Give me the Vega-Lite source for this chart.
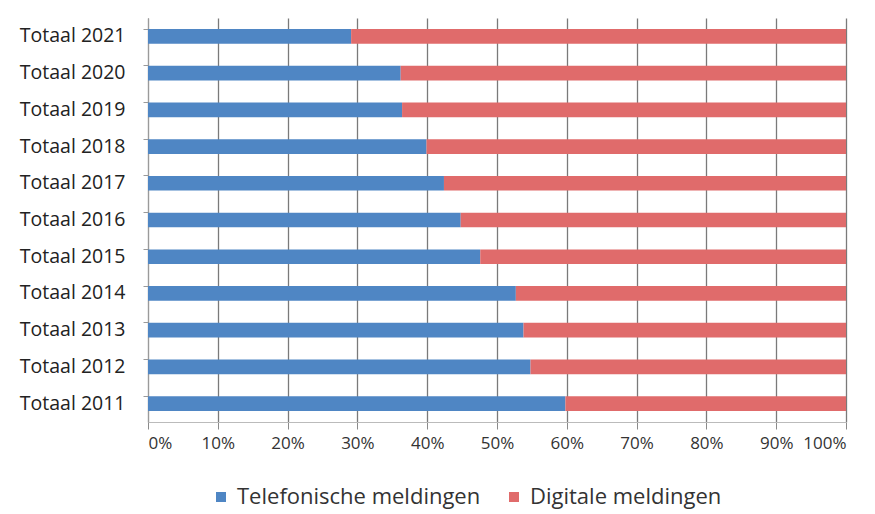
{
  "$schema": "https://vega.github.io/schema/vega-lite/v6.json",
  "width": 698,
  "height": 404,
  "autosize": {"type": "none"},
  "padding": {"left": 148, "top": 18, "right": 29, "bottom": 92},
  "background": "white",
  "config": {
    "view": {"stroke": null},
    "font": "Open Sans"
  },
  "data": {
    "values": [
      {"jaar": "Totaal 2021", "soort": "Telefonische meldingen", "o": 1, "pct": 29.1},
      {"jaar": "Totaal 2021", "soort": "Digitale meldingen", "o": 2, "pct": 70.9},
      {"jaar": "Totaal 2020", "soort": "Telefonische meldingen", "o": 1, "pct": 36.2},
      {"jaar": "Totaal 2020", "soort": "Digitale meldingen", "o": 2, "pct": 63.8},
      {"jaar": "Totaal 2019", "soort": "Telefonische meldingen", "o": 1, "pct": 36.4},
      {"jaar": "Totaal 2019", "soort": "Digitale meldingen", "o": 2, "pct": 63.6},
      {"jaar": "Totaal 2018", "soort": "Telefonische meldingen", "o": 1, "pct": 39.9},
      {"jaar": "Totaal 2018", "soort": "Digitale meldingen", "o": 2, "pct": 60.1},
      {"jaar": "Totaal 2017", "soort": "Telefonische meldingen", "o": 1, "pct": 42.4},
      {"jaar": "Totaal 2017", "soort": "Digitale meldingen", "o": 2, "pct": 57.6},
      {"jaar": "Totaal 2016", "soort": "Telefonische meldingen", "o": 1, "pct": 44.8},
      {"jaar": "Totaal 2016", "soort": "Digitale meldingen", "o": 2, "pct": 55.2},
      {"jaar": "Totaal 2015", "soort": "Telefonische meldingen", "o": 1, "pct": 47.6},
      {"jaar": "Totaal 2015", "soort": "Digitale meldingen", "o": 2, "pct": 52.4},
      {"jaar": "Totaal 2014", "soort": "Telefonische meldingen", "o": 1, "pct": 52.7},
      {"jaar": "Totaal 2014", "soort": "Digitale meldingen", "o": 2, "pct": 47.3},
      {"jaar": "Totaal 2013", "soort": "Telefonische meldingen", "o": 1, "pct": 53.8},
      {"jaar": "Totaal 2013", "soort": "Digitale meldingen", "o": 2, "pct": 46.2},
      {"jaar": "Totaal 2012", "soort": "Telefonische meldingen", "o": 1, "pct": 54.8},
      {"jaar": "Totaal 2012", "soort": "Digitale meldingen", "o": 2, "pct": 45.2},
      {"jaar": "Totaal 2011", "soort": "Telefonische meldingen", "o": 1, "pct": 59.8},
      {"jaar": "Totaal 2011", "soort": "Digitale meldingen", "o": 2, "pct": 40.2}
    ]
  },
  "mark": {"type": "bar"},
  "encoding": {
    "y": {
      "field": "jaar",
      "type": "nominal",
      "sort": "descending",
      "scale": {"paddingInner": 0.6, "paddingOuter": 0.3},
      "axis": {
        "title": null,
        "labelFontSize": 19.5,
        "labelColor": "#222222",
        "labelPadding": 18,
        "domainColor": "#9a9a9a",
        "tickColor": "#9a9a9a",
        "tickSize": 5,
        "bandPosition": 0,
        "grid": false
      }
    },
    "x": {
      "field": "pct",
      "type": "quantitative",
      "stack": "normalize",
      "scale": {"domain": [0, 1]},
      "axis": {
        "title": null,
        "format": ".0%",
        "values": [0, 0.1, 0.2, 0.3, 0.4, 0.5, 0.6, 0.7, 0.8, 0.9, 1],
        "labelFontSize": 17,
        "labelColor": "#333333",
        "labelPadding": 6,
        "domainColor": "#bbbbbb",
        "tickColor": "#8a8a8a",
        "tickSize": 7,
        "grid": true,
        "gridColor": "#7a7a7a",
        "gridWidth": 1.3
      }
    },
    "color": {
      "field": "soort",
      "type": "nominal",
      "scale": {
        "domain": ["Telefonische meldingen", "Digitale meldingen"],
        "range": ["#4F86C4", "#E06B6B"]
      },
      "legend": {
        "title": null,
        "orient": "none",
        "direction": "horizontal",
        "legendX": 62,
        "legendY": 468,
        "symbolType": "square",
        "symbolSize": 100,
        "symbolStrokeWidth": 0,
        "labelFontSize": 22,
        "labelLimit": 500,
        "labelColor": "#333333",
        "columnPadding": 22,
        "labelOffset": 5
      }
    },
    "order": {"field": "o", "type": "quantitative"}
  }
}
